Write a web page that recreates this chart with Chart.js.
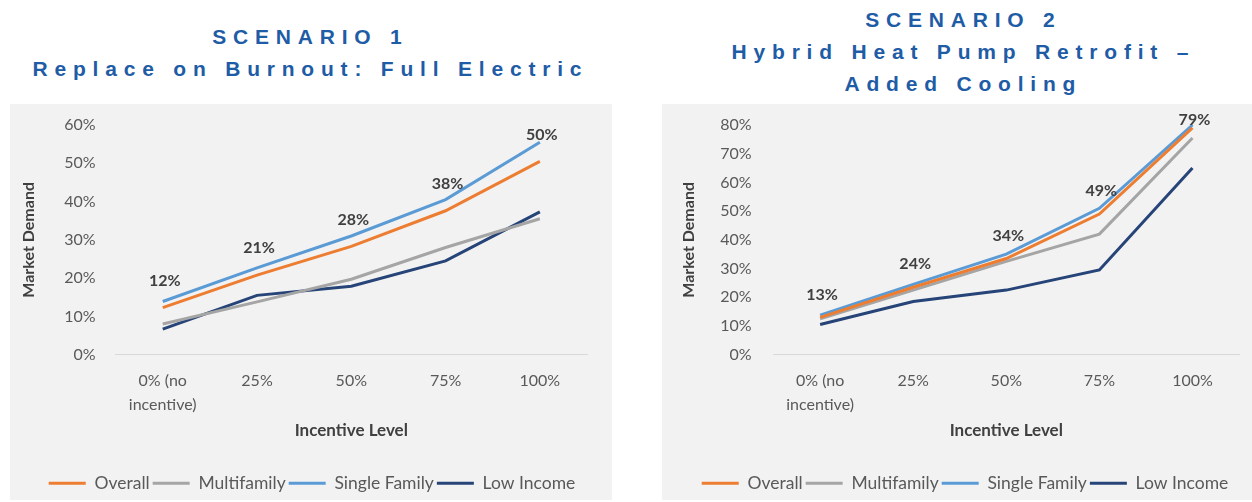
<!DOCTYPE html>
<html>
<head>
<meta charset="utf-8">
<script src="https://cdn.jsdelivr.net/npm/chart.js@4"></script>
<style>
  body { margin: 0; width: 1252px; height: 502px; background: #fff; position: relative; overflow: hidden; font-family: Lato, sans-serif; }
  .title { position: absolute; text-align: center; color: #1f5ca6; font-family: "Liberation Sans", Arial, sans-serif; font-weight: bold; font-size: 21px; letter-spacing: 6.8px; padding-left: 6.8px; box-sizing: border-box; line-height: 32px; }
  .panel { position: absolute; top: 104px; height: 396px; background: #f2f2f2; }
</style>
</head>
<body>
<div class="title" style="left:6px; width:602px; top:21px;">SCENARIO 1<br>Replace on Burnout: Full Electric</div>
<div class="title" style="left:665px; width:590px; top:4px;">SCENARIO 2<br>Hybrid Heat Pump Retrofit –<br>Added Cooling</div>
<div class="panel" style="left:10px; width:602px;"><canvas id="chart1"></canvas></div>
<div class="panel" style="left:662px; width:590px;"><canvas id="chart2"></canvas></div>
<script>
// 类别（激励水平）
const categories = [['0% (no', 'incentive)'], '25%', '50%', '75%', '100%'];
const seriesNames = ['Overall', 'Multifamily', 'Single Family', 'Low Income'];
const seriesColors = ['#ed7d31', '#a5a5a5', '#5b9bd5', '#264478'];

// 情景1：整体电气化
const s1Overall = [12.3, 20.8, 28.3, 37.6, 50.5];
const s1Multifamily = [8.0, 13.8, 19.7, 28.0, 35.5];
const s1SingleFamily = [13.9, 22.7, 31.0, 40.5, 55.5];
const s1LowIncome = [6.7, 15.5, 17.9, 24.5, 37.3];
const s1Labels = ['12%', '21%', '28%', '38%', '50%'];

// 情景2：混合热泵改造
const s2Overall = [13.0, 23.5, 33.5, 49.0, 79.0];
const s2Multifamily = [12.5, 22.5, 32.5, 42.0, 75.5];
const s2SingleFamily = [13.8, 24.5, 35.0, 51.0, 80.0];
const s2LowIncome = [10.5, 18.5, 22.5, 29.5, 65.0];
const s2Labels = ['13%', '24%', '34%', '49%', '79%'];

// 在"Overall"折线上方绘制数据标签
const pointLabelPlugin = {
    id: 'pointLabels',
    afterDatasetsDraw(chart, args, opts) {
        const ctx = chart.ctx;
        const meta = chart.getDatasetMeta(0);
        ctx.save();
        ctx.font = 'bold 16px Lato, sans-serif';
        ctx.fillStyle = '#404040';
        ctx.textAlign = 'center';
        ctx.textBaseline = 'middle';
        meta.data.forEach((pt, i) => {
            let y = pt.y - opts.offset;
            y = Math.max(y, chart.chartArea.top - 5);
            ctx.fillText(opts.labels[i], pt.x + 2, y);
        });
        ctx.restore();
    }
};

// 图例整体水平平移（与原图居中位置一致）
const legendShiftPlugin = {
    id: 'legendShift',
    afterLayout(chart, args, opts) {
        if (chart.legend) {
            chart.legend.left += opts.dx;
            chart.legend.right += opts.dx;
        }
    }
};

function buildDatasets(values) {
    return values.map((data, i) => ({
        label: seriesNames[i],
        data: data,
        borderColor: seriesColors[i],
        backgroundColor: seriesColors[i],
        borderWidth: 3,
        pointRadius: 0,
        tension: 0
    }));
}

function renderChart(id, values, labels, yMax, pad, tickPad, titleGap, labelOffset, legendDx) {
    const ctx = document.getElementById(id).getContext('2d');
    return new Chart(ctx, {
        type: 'line',
        data: { labels: categories, datasets: buildDatasets(values) },
        plugins: [pointLabelPlugin, legendShiftPlugin],
        options: {
            responsive: true,
            maintainAspectRatio: false,
            animation: false,
            layout: { padding: pad },
            scales: {
                x: {
                    offset: true,
                    grid: { display: false, drawTicks: false, offset: true },
                    border: { display: true, color: '#d9d9d9' },
                    ticks: { color: '#595959', font: { family: 'Lato', size: 16, lineHeight: 1.45 }, maxRotation: 0, padding: 15 },
                    title: { display: true, text: 'Incentive Level', color: '#404040', font: { family: 'Lato', size: 17, weight: 'bold' }, padding: { top: -11, bottom: 31 } }
                },
                y: {
                    min: 0,
                    max: yMax,
                    grid: { display: false, drawTicks: false },
                    border: { display: false },
                    // 末尾全角空格用于拉开刻度文字与绘图区的距离
                    ticks: { stepSize: 10, color: '#595959', font: { family: 'Lato', size: 16 }, padding: tickPad, callback: v => v + '%\u2003' },
                    title: { display: true, text: 'Market Demand', color: '#404040', font: { family: 'Lato', size: 16, weight: 'bold' }, padding: { top: 4, bottom: titleGap } }
                }
            },
            plugins: {
                legend: {
                    position: 'bottom',
                    labels: { usePointStyle: true, pointStyle: 'line', pointStyleWidth: 37, color: '#595959', font: { family: 'Lato', size: 17.5 }, padding: 3, boxHeight: 3 }
                },
                legendShift: { dx: legendDx },
                tooltip: { enabled: false },
                pointLabels: { labels: labels, offset: labelOffset }
            }
        }
    });
}

renderChart('chart1', [s1Overall, s1Multifamily, s1SingleFamily, s1LowIncome], s1Labels, 60, { top: 21, right: 25, left: 5, bottom: -2 }, 8, 18, 27, 11);
renderChart('chart2', [s2Overall, s2Multifamily, s2SingleFamily, s2LowIncome], s2Labels, 80, { top: 21, right: 13, left: 13, bottom: -2 }, 10, 12, 23, 8);
</script>
</body>
</html>
